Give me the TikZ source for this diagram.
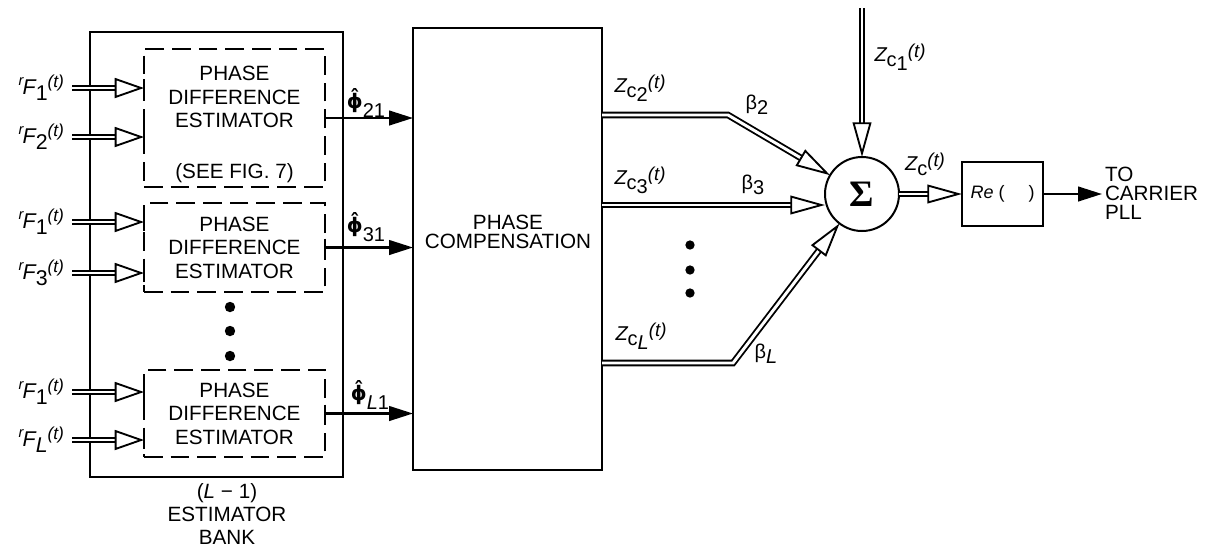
\documentclass[tikz,border=0pt]{standalone}
\usepackage{fontspec}
\setmainfont{Liberation Sans}
\newfontfamily\sigfont{Liberation Serif}
\newfontfamily\phifont{DejaVu Sans}
\usepackage{amsmath}
\usetikzlibrary{arrows.meta}
\newcommand{\rFlab}[1]{{\fontsize{16}{16}\selectfont\itshape\raisebox{6.5pt}{\fontsize{11}{11}\selectfont r}\kern-0.5pt F\raisebox{-5pt}{\upshape #1}\raisebox{5pt}{\fontsize{13}{13}\selectfont (t)}}}
\newcommand{\Zclab}[1]{{\fontsize{15}{15}\selectfont\itshape Z\raisebox{-4pt}{\upshape c\raisebox{-3pt}{#1}}\raisebox{3pt}{\fontsize{14}{14}\selectfont (t)}}}
\newcommand{\phlab}[1]{{\fontsize{15}{15}\selectfont{\phifont\bfseries ϕ̂}\raisebox{-7pt}{\fontsize{15}{15}\selectfont #1}}}
\newcommand{\betlab}[1]{{\fontsize{15}{15}\selectfont β\raisebox{-4pt}{#1}}}
\begin{document}
\begin{tikzpicture}[x=0.75pt,y=-0.75pt,
  every node/.style={font=\fontsize{15.5}{17.6}\selectfont, inner sep=0pt, outer sep=0pt},
  sbox/.style={draw, line width=1.7pt},
  dbox/.style={draw, line width=1.8pt, dash pattern=on 14pt off 6pt},
  tick/.style={line width=1.8pt},
  dblin/.style={line width=1.4pt, double distance=2.2pt, -{Triangle[open,length=22pt,width=15pt,line width=1.4pt]}},
  dblsum/.style={line width=1.4pt, double distance=2.2pt, -{Triangle[open,length=26pt,width=14pt,line width=1.4pt]}},
  fil/.style={line width=1.7pt, -{Triangle[length=18pt,width=11pt]}}]
\useasboundingbox (0,0) rectangle (1214,551);
% estimator bank
\node[sbox, minimum width=189.75pt, minimum height=333.75pt] (bank) at (216.5,254.5) {};
\node[dbox, minimum width=135.75pt, minimum height=103.5pt] (pd1) at (234.5,118) {};
\node[dbox, minimum width=135.75pt, minimum height=66.75pt, align=center] (pd2) at (234.5,247.5) {PHASE\\DIFFERENCE\\ESTIMATOR};
\node[dbox, minimum width=135.75pt, minimum height=65.25pt, align=center] (pd3) at (234.5,413.5) {PHASE\\DIFFERENCE\\ESTIMATOR};
\node[align=center] (pd1t) at (234.5,97) {PHASE\\DIFFERENCE\\ESTIMATOR};
\node (pd1f) at (234.5,173) {(SEE FIG. 7)};
\fill (230,307) circle[radius=3.9pt];
\fill (230,331) circle[radius=3.9pt];
\fill (230,356) circle[radius=3.9pt];
% phase compensation
\node[sbox, minimum width=141.75pt, minimum height=331.5pt] (comp) at (507.5,249) {};
\node[align=center, font=\fontsize{15.5}{14.2}\selectfont] (compt) at (508,232) {PHASE\\COMPENSATION};
% inputs
\foreach \n/\y/\b in {a/88/pd1, b/137/pd1, c/222/pd2, d/273/pd2, e/392/pd3, f/440/pd3} {
  \coordinate (in\n) at (72,\y);
  \draw[dblin] (in\n) -- (in\n -| \b.west);
  \draw[tick] (in\n -| \b.west) ++(0,-9) -- ++(0,18);
}
\node[anchor=east] (la) at (64,88) {\rFlab{1}};
\node[anchor=east] (lb) at (64,137) {\rFlab{2}};
\node[anchor=east] (lc) at (64,222) {\rFlab{1}};
\node[anchor=east] (ld) at (64,273) {\rFlab{3}};
\node[anchor=east] (le) at (64,392) {\rFlab{1}};
\node[anchor=east] (lf) at (64,440) {\rFlab{\itshape L}};
% phase difference outputs
\foreach \b in {pd1,pd2,pd3} {
  \draw[fil] (\b.east) -- (\b.east -| comp.west);
  \draw[tick] (\b.east) ++(0,-9) -- ++(0,18);
}
\node (p21) at (366,103) {\phlab{21}};
\node (p31) at (366,227) {\phlab{31}};
\node (pL1) at (370,395) {\phlab{\itshape L\upshape 1}};
% summing junction
\node[draw, circle, line width=1.5pt, minimum size=55.5pt] (sum) at (862,194) {\fontsize{28}{28}\selectfont\sigfont\bfseries Σ};
\node[draw, line width=1.5pt, minimum width=60.75pt, minimum height=48pt] (re) at (1002.5,194) {\fontsize{13.5}{13.5}\selectfont\textit{Re} (\hspace{18pt})};
\coordinate (b2) at (728,115);
\draw[dblsum] (b2 -| comp.east) -- (b2) -- (sum);
\coordinate (b3) at (700,205);
\draw[dblsum] (b3 -| comp.east) -- (b3 -| sum.west);
\coordinate (b4) at (733,363);
\draw[dblsum] (b4 -| comp.east) -- (b4) -- (sum);
\coordinate (z1) at (862,8);
\draw[dblsum] (z1) -- (sum);
\draw[dblsum] (sum) -- (re);
\coordinate (out) at (1102,194);
\draw[fil] (re) -- (out);
\node (lz2) at (640,88) {\Zclab{2}};
\node (lz3) at (640,180) {\Zclab{3}};
\node (lzL) at (641,336) {\Zclab{\itshape L}};
\node (lz1) at (900,57) {\Zclab{1}};
\node (lz) at (925,166) {\Zclab{}};
\node (bt2) at (757,105) {\betlab{2}};
\node (bt3) at (753,185) {\betlab{3}};
\node (btL) at (766,354) {\betlab{\itshape L}};
\fill (690,245) circle[radius=3.5pt];
\fill (690,270) circle[radius=3.5pt];
\fill (690,293) circle[radius=3.5pt];
\node[align=center, font=\fontsize{15.5}{16.9}\selectfont] (banklab) at (227,514) {(\textit{L} − 1)\\ESTIMATOR\\BANK};
\node[anchor=west, align=left, font=\fontsize{15.5}{14.3}\selectfont] (to) at (1105,193) {TO\\CARRIER\\PLL};
\end{tikzpicture}
\end{document}
